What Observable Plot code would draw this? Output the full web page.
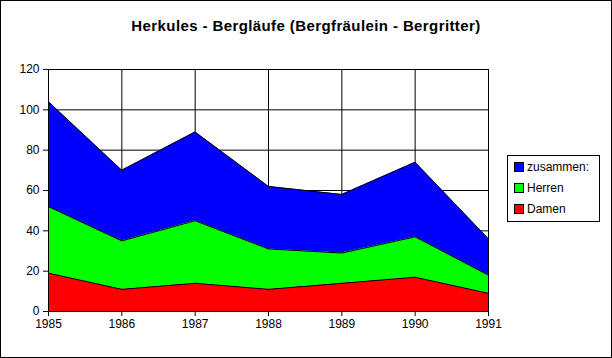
<!DOCTYPE html>
<html><head><meta charset="utf-8">
<script src="https://cdn.jsdelivr.net/npm/d3@7"></script>
<script src="https://cdn.jsdelivr.net/npm/@observablehq/plot@0.6"></script>
<style>
html,body{margin:0;padding:0;background:#fff;}
#wrap{position:relative;width:612px;height:358px;font-family:Arial,"Liberation Sans",sans-serif;}
#border{position:absolute;left:0;top:0;width:612px;height:358px;box-sizing:border-box;border:1px solid #000;pointer-events:none;}
#title{position:absolute;left:0;width:612px;top:17px;text-align:center;font-weight:bold;font-size:15px;letter-spacing:0.4px;color:#000;}
#legend{position:absolute;left:507px;top:155px;width:93px;height:67px;box-sizing:border-box;border:1px solid #000;font-size:12px;}
.item{position:absolute;left:6px;height:14px;line-height:14px;}
.sw{display:inline-block;width:8px;height:8px;border:1px solid #000;margin-right:3px;vertical-align:-1px;}
svg{position:absolute;left:0;top:0;}
</style></head>
<body><div id="wrap"><div id="title">Herkules - Bergläufe (Bergfräulein - Bergritter)</div><div id="legend"></div><div id="border"></div></div>
<script>
const years = [1985, 1986, 1987, 1988, 1989, 1990, 1991];
const damen = [19, 11, 14, 11, 14, 17, 9];
const herren = [33, 24, 31, 20, 15, 20, 9];
const zusammen = [52, 35, 44, 31, 29, 37, 18];
const seriesNames = ["Damen", "Herren", "zusammen:"];
const seriesColors = ["#ff0000", "#00ff00", "#0000ff"];
const yTicks = [0, 20, 40, 60, 80, 100, 120];

const values = [damen, herren, zusammen];
const data = [];
seriesNames.forEach((s, i) => years.forEach((y, j) => data.push({year: y, series: s, value: values[i][j]})));

const chart = Plot.plot({
  width: 612, height: 358,
  marginLeft: 48, marginRight: 124, marginTop: 69, marginBottom: 47,
  style: {fontFamily: "Arial, 'Liberation Sans', sans-serif", fontSize: "12px", color: "#000", background: "transparent"},
  x: {type: "linear", domain: [1985, 1991], ticks: years, tickFormat: d => String(d), label: null, tickSize: 5, tickPadding: 3},
  y: {domain: [0, 120], ticks: yTicks, label: null, tickSize: 5, tickPadding: 4},
  color: {domain: seriesNames, range: seriesColors},
  marks: [
    Plot.gridY(yTicks, {stroke: "#000", strokeOpacity: 1}),
    Plot.gridX(years, {stroke: "#000", strokeOpacity: 1}),
    Plot.areaY(data, {x: "year", y: "value", fill: "series", z: "series", order: seriesNames, fillOpacity: 1}),
    Plot.lineY(data, Plot.stackY2({x: "year", y: "value", z: "series", order: seriesNames, stroke: "#000", strokeWidth: 1})),
    Plot.ruleY([0], {stroke: "#000"}),
    Plot.ruleX([1985], {stroke: "#000"}),
    Plot.axisX({ticks: years, tickFormat: d => String(d), tickSize: 5, tickPadding: 3, fontSize: 12, label: null}),
    Plot.axisY({ticks: yTicks, tickSize: 5, tickPadding: 4, fontSize: 12, label: null})
  ]
});
document.getElementById("wrap").insertBefore(chart, document.getElementById("title"));

const legend = document.getElementById("legend");
const order = [2, 1, 0];
order.forEach((i, k) => {
  const d = document.createElement("div");
  d.className = "item";
  d.style.top = (4 + k * 21) + "px";
  d.innerHTML = `<span class="sw" style="background:${seriesColors[i]}"></span>${seriesNames[i]}`;
  legend.appendChild(d);
});
</script></body></html>
